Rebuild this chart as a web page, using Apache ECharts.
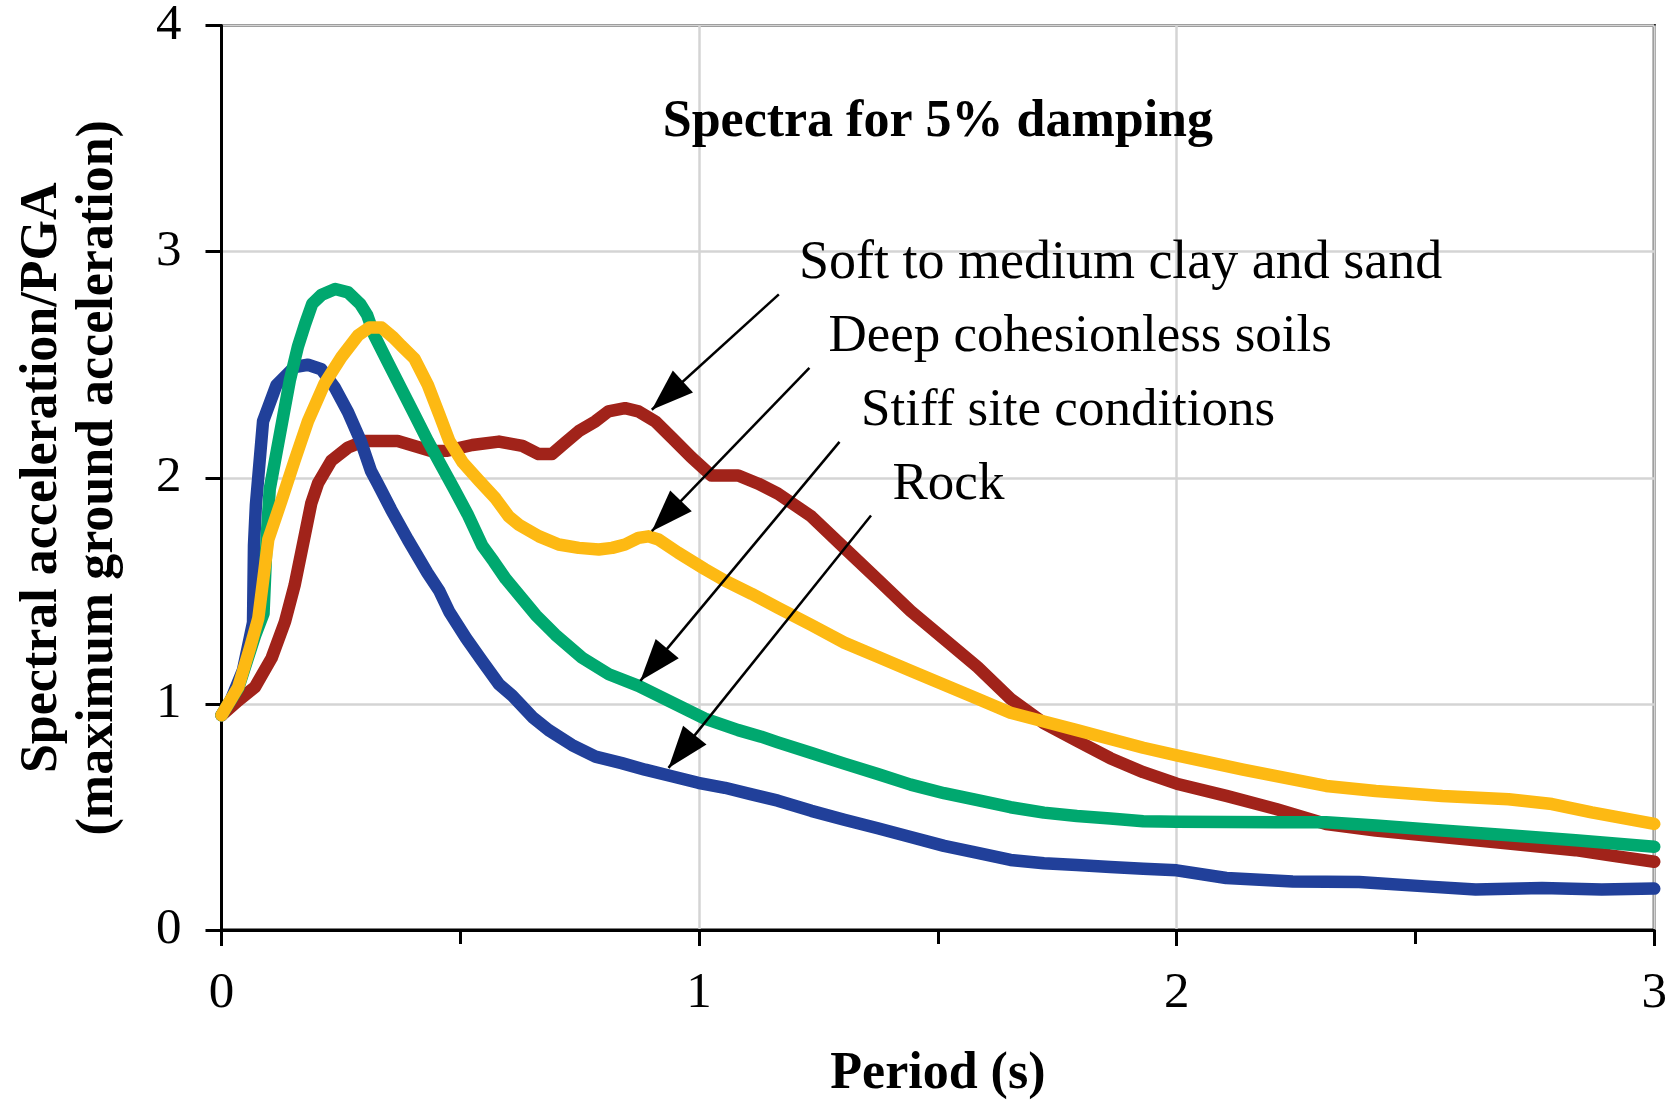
<!DOCTYPE html>
<html>
<head>
<meta charset="utf-8">
<script src="https://cdn.jsdelivr.net/npm/echarts@6/dist/echarts.min.js"></script>
<style>html,body{margin:0;padding:0;background:#fff}#c{width:1670px;height:1108px}</style>
</head>
<body>
<div id="c"></div>
<script>
// ---- Data (Period in s, Spectral acceleration / PGA) ----
const softPeriod = [0,0.035,0.07,0.105,0.133,0.153,0.174,0.188,0.202,0.23,0.265,0.299,0.369,0.404,0.439,0.473,0.525,0.581,0.63,0.664,0.692,0.72,0.748,0.783,0.81,0.845,0.873,0.908,0.943,0.984,1.026,1.082,1.124,1.165,1.235,1.304,1.374,1.443,1.513,1.583,1.652,1.722,1.791,1.861,1.93,2.0,2.104,2.208,2.313,2.417,2.556,2.695,2.835,2.904,3.0];
const softSA     = [0.95,1.015,1.074,1.203,1.364,1.524,1.742,1.887,1.975,2.076,2.134,2.163,2.163,2.141,2.119,2.12,2.145,2.16,2.141,2.105,2.105,2.156,2.206,2.25,2.294,2.308,2.294,2.25,2.177,2.09,2.01,2.01,1.974,1.93,1.829,1.69,1.55,1.411,1.287,1.163,1.023,0.915,0.837,0.76,0.698,0.647,0.593,0.535,0.469,0.44,0.411,0.382,0.353,0.331,0.302];

const deepPeriod = [0,0.035,0.06,0.077,0.098,0.126,0.153,0.181,0.216,0.251,0.286,0.31,0.335,0.36,0.376,0.404,0.432,0.456,0.477,0.505,0.539,0.574,0.602,0.623,0.665,0.706,0.748,0.79,0.818,0.845,0.873,0.894,0.915,0.956,1.012,1.054,1.11,1.165,1.235,1.304,1.374,1.443,1.513,1.583,1.652,1.722,1.791,1.861,1.93,2.0,2.139,2.313,2.417,2.556,2.695,2.786,2.869,3.0];
const deepSA     = [0.95,1.074,1.25,1.378,1.727,1.902,2.076,2.25,2.418,2.534,2.63,2.665,2.665,2.62,2.585,2.527,2.411,2.28,2.163,2.068,1.988,1.908,1.828,1.792,1.741,1.705,1.69,1.683,1.69,1.705,1.734,1.741,1.727,1.669,1.596,1.545,1.487,1.425,1.349,1.271,1.209,1.147,1.085,1.023,0.961,0.922,0.884,0.845,0.806,0.772,0.709,0.637,0.615,0.593,0.578,0.557,0.52,0.469];

const stiffPeriod = [0,0.035,0.07,0.088,0.095,0.101,0.122,0.143,0.16,0.175,0.19,0.21,0.238,0.265,0.29,0.305,0.32,0.348,0.376,0.404,0.432,0.456,0.487,0.515,0.546,0.57,0.595,0.658,0.699,0.755,0.811,0.873,0.943,1.012,1.082,1.13,1.165,1.235,1.304,1.374,1.443,1.513,1.583,1.652,1.722,1.791,1.861,1.93,2.0,2.208,2.313,2.417,2.556,2.695,2.835,3.0];
const stiffSA     = [0.95,1.07,1.3,1.4,1.75,1.95,2.19,2.43,2.58,2.68,2.77,2.81,2.835,2.82,2.77,2.72,2.63,2.512,2.396,2.28,2.163,2.07,1.95,1.84,1.7,1.63,1.553,1.393,1.306,1.204,1.131,1.08,1.007,0.935,0.884,0.855,0.83,0.783,0.736,0.69,0.643,0.605,0.574,0.543,0.519,0.504,0.493,0.481,0.479,0.477,0.477,0.462,0.44,0.419,0.397,0.368];

const rockPeriod = [0,0.02,0.045,0.066,0.068,0.072,0.087,0.115,0.153,0.181,0.209,0.237,0.265,0.292,0.313,0.327,0.355,0.39,0.431,0.456,0.477,0.512,0.546,0.581,0.609,0.651,0.685,0.734,0.783,0.838,0.887,0.943,0.998,1.054,1.11,1.165,1.235,1.304,1.374,1.443,1.513,1.583,1.652,1.722,1.791,1.861,1.93,2.0,2.104,2.243,2.382,2.521,2.626,2.765,2.89,3.0];
const rockSA     = [0.95,1.02,1.15,1.36,1.7,1.88,2.25,2.41,2.49,2.5,2.48,2.4,2.29,2.16,2.03,1.975,1.86,1.727,1.58,1.5,1.407,1.291,1.189,1.087,1.036,0.942,0.884,0.818,0.767,0.738,0.709,0.68,0.651,0.629,0.6,0.572,0.527,0.488,0.45,0.411,0.372,0.341,0.31,0.295,0.287,0.279,0.271,0.264,0.23,0.215,0.212,0.193,0.179,0.186,0.179,0.183];

const xTickLabels = ['0','1','2','3'];
const yTickLabels = ['0','1','2','3','4'];

// Annotation texts and arrows (data coordinates)
const chartTitle = 'Spectra for 5% damping';
const titlePos = [1.5, 3.572];
const curveNames = ['Soft to medium clay and sand','Deep cohesionless soils','Stiff site conditions','Rock'];
const namePos = [[1.209, 2.946],[1.271, 2.621],[1.339, 2.294],[1.405, 1.97]];
const arrowTail = [[1.167, 2.811],[1.231, 2.486],[1.294, 2.159],[1.36, 1.833]];
const arrowTip  = [[0.901, 2.301],[0.901, 1.764],[0.877, 1.102],[0.936, 0.717]];

const colors = {soft:'#A1231A', deep:'#FDB913', stiff:'#00A86F', rock:'#21409A'};
const FONT = '"Liberation Serif", "Times New Roman", serif';

const zip = (a, b) => a.map((v, i) => [v, b[i]]);

function lineSeries(name, px, py, color) {
  return {
    name, type: 'line', data: zip(px, py), showSymbol: false, symbol: 'none',
    smooth: false, silent: true,
    lineStyle: {color, width: 12.5, cap: 'round', join: 'round'}
  };
}

const chart = echarts.init(document.getElementById('c'), null, {renderer: 'canvas'});

const annoData = [
  {value: titlePos, label: {show: true, formatter: chartTitle, position: 'inside', align: 'center', verticalAlign: 'middle', fontWeight: 'bold', fontSize: 52, color: '#000', fontFamily: FONT}}
].concat(curveNames.map((n, i) => ({
  value: namePos[i],
  label: {show: true, formatter: n, position: 'right', distance: 0, align: 'left', verticalAlign: 'middle', fontSize: i === 0 ? 54 : 53, color: '#000', fontFamily: FONT}
})));

const arrowData = arrowTail.map((t, i) => [
  {coord: t, symbol: 'none'},
  {coord: arrowTip[i], symbol: 'triangle', symbolSize: [30, 42], symbolOffset: [0, 21]}
]);

const option = {
  animation: false,
  backgroundColor: '#fff',
  grid: {left: 221.5, top: 25.6, width: 1438, height: 917, show: true, borderColor: '#000', borderWidth: 3, containLabel: false},
  xAxis: {
    type: 'value', min: 0, max: 3, interval: 1,
    name: 'Period (s)', nameLocation: 'middle', nameGap: 117,
    nameTextStyle: {fontFamily: FONT, fontWeight: 'bold', fontSize: 52, color: '#000', lineHeight: 56},
    axisLine: {show: true, onZero: false, lineStyle: {color: '#000', width: 3}},
    axisTick: {show: true, length: 16, lineStyle: {color: '#000', width: 3}},
    minorTick: {show: true, splitNumber: 2, length: 14, lineStyle: {color: '#000', width: 3}},
    axisLabel: {fontFamily: FONT, fontSize: 51, color: '#000', margin: 38, lineHeight: 51,
      formatter: v => xTickLabels[Math.round(v)]},
    splitLine: {show: true, lineStyle: {color: '#d4d4d4', width: 2.5}}
  },
  yAxis: {
    type: 'value', min: 0, max: 4, interval: 1,
    name: 'Spectral acceleration/PGA\n(maximum ground acceleration)', nameLocation: 'middle', nameGap: 95,
    nameTextStyle: {fontFamily: FONT, fontWeight: 'bold', fontSize: 52, color: '#000', lineHeight: 56, align: 'center'},
    axisLine: {show: true, onZero: false, lineStyle: {color: '#000', width: 3}},
    axisTick: {show: true, length: 16, lineStyle: {color: '#000', width: 3}},
    axisLabel: {fontFamily: FONT, fontSize: 51, color: '#000', margin: 40,
      formatter: v => yTickLabels[Math.round(v)]},
    splitLine: {show: true, lineStyle: {color: '#d4d4d4', width: 2.5}}
  },
  series: [
    lineSeries('Soft to medium clay and sand', softPeriod, softSA, colors.soft),
    lineSeries('Rock', rockPeriod, rockSA, colors.rock),
    lineSeries('Stiff site conditions', stiffPeriod, stiffSA, colors.stiff),
    lineSeries('Deep cohesionless soils', deepPeriod, deepSA, colors.deep),
    {
      name: 'annotations', type: 'scatter', symbolSize: 0, silent: true, z: 5,
      itemStyle: {opacity: 1},
      data: annoData,
      markLine: {
        silent: true, animation: false, symbol: ['none', 'triangle'],
        lineStyle: {color: '#000', width: 2.5, type: 'solid', opacity: 1},
        itemStyle: {color: '#000', opacity: 1},
        label: {show: false},
        emphasis: {disabled: true},
        data: arrowData
      }
    }
  ]
};
chart.setOption(option);
</script>
</body>
</html>
